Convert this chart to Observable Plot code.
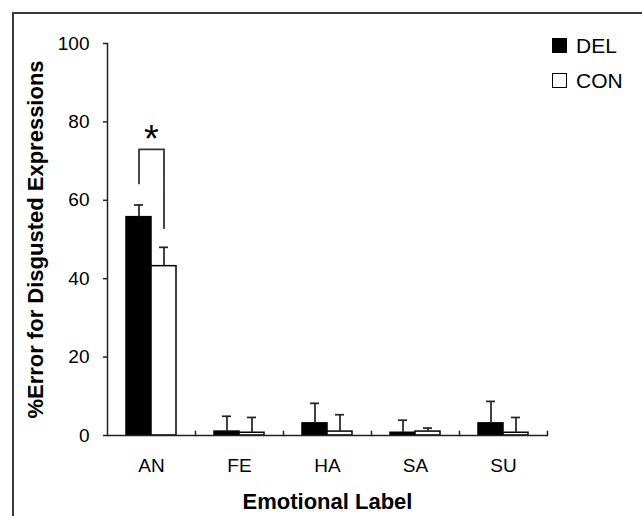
<!DOCTYPE html>
<html>
<head>
<meta charset="utf-8">
<script src="https://cdn.jsdelivr.net/npm/d3@7"></script>
<script src="https://cdn.jsdelivr.net/npm/@observablehq/plot@0.6"></script>
<style>
  body { margin: 0; background: #fff; }
  #wrap { position: relative; width: 642px; height: 516px; overflow: hidden; font-family: "Liberation Sans", Arial, sans-serif; }
  #border { position: absolute; left: 12px; top: 12px; width: 700px; height: 600px; border-left: 2px solid #3a3a3a; border-top: 2px solid #3a3a3a; pointer-events: none; }
  #legend { position: absolute; left: 552px; top: 38px; color: #000; }
  .row { display: flex; align-items: center; height: 15px; margin-bottom: 20px; font-size: 21px; line-height: 1; }
  .sw { width: 15px; height: 15px; box-sizing: border-box; border: 1px solid #000; margin-right: 9px; }
  g[aria-label="y-axis label"], g[aria-label="fx-axis label"] { font-weight: bold; font-size: 22px; }
</style>
</head>
<body>
<div id="wrap">
  <div id="chart"></div>
  <div id="border"></div>
  <div id="legend"></div>
</div>
<script>
// ---- data ----
const categories = ["AN", "FE", "HA", "SA", "SU"];
const groups = ["DEL", "CON"];
const groupColors = ["#000000", "#ffffff"];
const delMean = [55.7, 1.0, 3.1, 0.7, 3.1];
const delErr  = [3.1, 3.9, 5.1, 3.2, 5.6];
const conMean = [43.2, 0.7, 1.0, 1.0, 0.7];
const conErr  = [4.8, 3.9, 4.3, 0.9, 3.9];
const yTicks = [0, 20, 40, 60, 80, 100];
const sigCategory = "AN";
const bracketGroups = ["DEL", "DEL", "CON", "CON"];
const bracketValues = [64.3, 73.0, 73.0, 52.9];
const asteriskValue = 75.5;
const xTitle = "Emotional Label";
const yTitle = "%Error for Disgusted Expressions";

// ---- tables ----
const table = categories.flatMap((c, i) => [
  {cat: c, group: "DEL", mean: delMean[i], err: delErr[i]},
  {cat: c, group: "CON", mean: conMean[i], err: conErr[i]}
]);
const bracket = bracketGroups.map((g, i) => ({cat: sigCategory, group: g, v: bracketValues[i]}));
const star = [{cat: sigCategory, v: asteriskValue}];

const chart = Plot.plot({
  width: 642,
  height: 516,
  marginLeft: 107,
  marginRight: 95,
  marginTop: 43,
  marginBottom: 81,
  style: {fontFamily: "'Liberation Sans', Arial, sans-serif", fontSize: "19px", color: "#000", background: "transparent"},
  fx: {domain: categories, padding: 0, axis: null},
  x: {domain: groups, paddingInner: 0, paddingOuter: 0.76, axis: null},
  y: {domain: [0, 100], axis: null},
  color: {domain: groups, range: groupColors},
  marks: [
    Plot.barY(table, {fx: "cat", x: "group", y: "mean", fill: "group", stroke: "#000", strokeWidth: 1.5}),
    Plot.ruleX(table, {fx: "cat", x: "group", y1: "mean", y2: d => d.mean + d.err, stroke: "#222", strokeWidth: 1.7}),
    Plot.tickY(table, {fx: "cat", x: "group", y: d => d.mean + d.err, stroke: "#222", strokeWidth: 1.7, insetLeft: 8, insetRight: 8}),
    Plot.ruleY([0], {stroke: "#222", strokeWidth: 1.5}),
    Plot.frame({anchor: "left", facetAnchor: "left", stroke: "#222", strokeWidth: 1.5}),
    Plot.frame({anchor: "right", insetTop: 388, stroke: "#222", strokeWidth: 1.5}),
    Plot.line(bracket, {fx: "cat", x: "group", y: "v", stroke: "#333", strokeWidth: 1.8}),
    Plot.text(star, {fx: "cat", y: "v", text: () => "*", fontSize: 38, fill: "#000"}),
    Plot.axisY({ticks: yTicks, tickSize: 4, tickPadding: 14, strokeWidth: 1.5, stroke: "#222",
      label: yTitle, labelAnchor: "center", labelOffset: 80, labelArrow: "none"}),
    Plot.axisFx({anchor: "bottom", tickSize: 0, tickPadding: 23,
      label: xTitle, labelAnchor: "center", labelOffset: 73, labelArrow: "none"})
  ]
});
document.getElementById("chart").appendChild(chart);

// legend
const legend = document.getElementById("legend");
groups.forEach((g, i) => {
  const row = document.createElement("div");
  row.className = "row";
  const sw = document.createElement("div");
  sw.className = "sw";
  sw.style.background = groupColors[i];
  const t = document.createElement("span");
  t.textContent = g;
  row.appendChild(sw);
  row.appendChild(t);
  legend.appendChild(row);
});
</script>
</body>
</html>
